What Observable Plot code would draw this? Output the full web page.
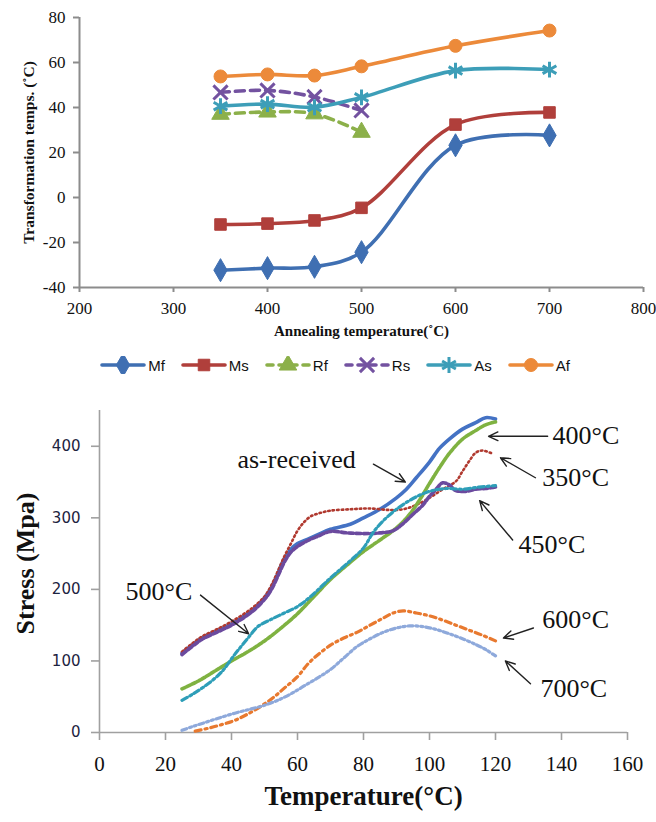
<!DOCTYPE html>
<html><head><meta charset="utf-8">
<script src="https://cdn.jsdelivr.net/npm/d3@7"></script>
<script src="https://cdn.jsdelivr.net/npm/@observablehq/plot@0.6"></script>
<style>
body{margin:0;background:#fff;width:656px;overflow:hidden;}
svg{display:block;}
#legend{height:35px;box-sizing:border-box;padding-top:11px;padding-left:14px;display:flex;justify-content:center;gap:16px;font-family:"Liberation Sans",Arial,sans-serif;font-size:15px;color:#111;}
#legend .item{display:flex;align-items:center;height:18px;}
#legend .item span{margin-left:2px;}
</style></head><body>
<div id="top"></div>
<div id="legend"></div>
<div id="bottom"></div>
<script>
// ---------- Top panel data ----------
const annealTemps = [350, 400, 450, 500, 600, 700];
const topSeriesNames = ["Mf", "Ms", "Rf", "Rs", "As", "Af"];
const Mf = [-32.3, -31.4, -30.8, -24.3, 23.2, 27.6];
const Ms = [-12.0, -11.6, -10.2, -4.6, 32.4, 37.8];
const Rf = [37.0, 38.0, 37.2, 29.0];
const Rs = [46.7, 47.6, 44.7, 38.7];
const As = [40.6, 41.5, 40.1, 44.5, 56.4, 56.8];
const Af = [53.8, 54.7, 54.2, 58.3, 67.4, 74.2];
const topValues = {Mf, Ms, Rf, Rs, As, Af};
const topXTicks = [200, 300, 400, 500, 600, 700, 800];
const topYTicks = [-40, -20, 0, 20, 40, 60, 80];

// ---------- Bottom panel data (Temperature °C, Stress MPa) ----------
const bottomSeriesNames = ["as-received", "350°C", "400°C", "450°C", "500°C", "600°C", "700°C"];
const asReceived = [[25,111],[28,122],[31,132],[35,141],[40,152],[46,170],[50,188],[52,202],[54,222],[56,243],[58,256],[60,264],[63,270],[66,276],[70,284],[76,291],[80,300],[85,312],[90,328],[93,340],[96,356],[100,378],[103,397],[106,410],[110,424],[114,433],[117,440],[120,438]];
const annealed350 = [[25,113],[28,124],[31,134],[35,143],[40,155],[46,173],[50,190],[52,205],[54,225],[56,246],[58,264],[60,282],[62,294],[64,302],[67,307],[70,310],[76,312],[82,313],[88,311],[92,312],[96,318],[100,328],[104,340],[108,351],[110,365],[112,379],[114,391],[116,394],[119,390]];
const annealed400 = [[25,61],[30,72],[35,86],[40,100],[45,113],[50,128],[55,146],[60,166],[65,190],[70,214],[75,234],[80,253],[85,269],[90,286],[94,305],[97,325],[100,348],[103,370],[106,390],[110,410],[114,422],[117,430],[120,434]];
const annealed450 = [[25,109],[28,120],[31,130],[35,139],[40,150],[46,168],[50,186],[52,199],[54,218],[56,238],[58,252],[60,260],[63,268],[66,274],[70,281],[75,279],[80,278],[85,279],[89,282],[92,292],[95,305],[98,318],[100,330],[102,340],[104,349],[106,346],[108,338],[111,337],[114,340],[117,341],[120,343]];
const annealed500 = [[25,45],[28,53],[32,65],[36,80],[38,90],[40,103],[42,115],[45,132],[48,148],[52,158],[56,167],[60,176],[64,190],[70,216],[76,240],[80,258],[83,280],[86,296],[90,312],[95,327],[100,337],[105,341],[110,340],[115,343],[120,345]];
const annealed600 = [[29,2],[33,6],[37,11],[41,17],[45,26],[50,40],[53,50],[56,62],[60,78],[63,95],[66,108],[70,122],[74,132],[78,140],[82,150],[86,160],[89,167],[92,170],[96,167],[100,163],[104,157],[108,150],[112,143],[116,136],[120,128]];
const annealed700 = [[25,3],[28,8],[32,14],[36,20],[41,27],[46,33],[50,38],[54,45],[58,54],[62,65],[66,76],[70,88],[74,104],[78,120],[82,131],[86,140],[90,146],[94,149],[98,148],[102,144],[106,138],[110,131],[114,123],[117,116],[120,107]];
const bottomValues = [asReceived, annealed350, annealed400, annealed450, annealed500, annealed600, annealed700];
const bottomXTicks = [0, 20, 40, 60, 80, 100, 120, 140, 160];
const bottomYTicks = [0, 100, 200, 300, 400];

// Annotations (label, text anchor in data units, arrow from -> to in data units)
const annotLabels = ["as-received", "400°C", "350°C", "450°C", "500°C", "600°C", "700°C"];
const annotTextT = [41.8, 137.3, 134.2, 127.0, 7.9, 134.2, 133.6];
const annotTextS = [370, 403, 344.5, 251, 185.5, 146, 49];
const arrowFromT = [83.0, 135.8, 132.1, 125.2, 30.6, 131.5, 130.6];
const arrowFromS = [375, 414, 356, 269, 192, 146, 68];
const arrowToT = [92.7, 117.9, 121.5, 115.2, 45.2, 122.4, 123.0];
const arrowToS = [350, 414, 384, 324, 138, 132, 100];

// ---------- Styles ----------
const topStyle = {
  Mf: {color: "#3F6FB2", symbol: "diamond", dash: null, r: 7, filled: true},
  Ms: {color: "#B03F3B", symbol: "square", dash: null, r: 6.5, filled: true},
  Rf: {color: "#8CB04A", symbol: "triangle", dash: "9,6", r: 6.5, filled: true},
  Rs: {color: "#7352A0", symbol: "times", dash: "9,6", r: 6.5, filled: false},
  As: {color: "#3D9EB8", symbol: "asterisk", dash: null, r: 7.5, filled: false},
  Af: {color: "#EC8A3A", symbol: "circle", dash: null, r: 6.5, filled: true}
};
const bottomStyle = [
  {color: "#4472C4", dash: null, w: 3.6},
  {color: "#B0392F", dash: "1.5,3", w: 2.6},
  {color: "#7FB241", dash: "4,1.5", w: 3.6},
  {color: "#6B4A9E", dash: "5,2.5", w: 3.6},
  {color: "#2E9EB8", dash: "6,3,2,3", w: 3.2},
  {color: "#E8792F", dash: "6,4,2,4", w: 3.2},
  {color: "#8EA9DB", dash: "5,3,2,3,2,3", w: 3.2}
];

// ---------- Top chart ----------
const topRows = topSeriesNames.flatMap(name => topValues[name].map((v, i) => ({name, T: annealTemps[i], v})));
const topMarks = [
  Plot.ruleX([200], {stroke: "#8c8c8c", strokeWidth: 2}),
  Plot.ruleY([-40], {stroke: "#8c8c8c", strokeWidth: 2}),
  Plot.axisY({ticks: topYTicks, tickFormat: d => String(d), tickSize: 6, tickPadding: 8, stroke: "#8c8c8c", strokeWidth: 2, fill: "#111", fontSize: 17, label: null}),
  Plot.axisX({ticks: topXTicks, tickFormat: d => String(d), tickSize: 5, tickPadding: 9, stroke: "#8c8c8c", strokeWidth: 2, fill: "#111", fontSize: 17, label: null})
];
for (const name of topSeriesNames) {
  const st = topStyle[name];
  const rows = topRows.filter(d => d.name === name);
  topMarks.push(Plot.line(rows, {x: "T", y: "v", stroke: st.color, strokeWidth: 3.6, curve: "catmull-rom", strokeDasharray: st.dash}));
}
for (const name of topSeriesNames) {
  const st = topStyle[name];
  const rows = topRows.filter(d => d.name === name);
  topMarks.push(st.filled
    ? Plot.dot(rows, {x: "T", y: "v", symbol: st.symbol, r: st.r, fill: st.color, stroke: st.color, strokeWidth: 1})
    : Plot.dot(rows, {x: "T", y: "v", symbol: st.symbol, r: st.r, fill: "none", stroke: st.color, strokeWidth: 3}));
}
topMarks.push(Plot.text(["Annealing temperature(˚C)"], {text: d => d, frameAnchor: "bottom", textAnchor: "middle", dy: 48, fontWeight: "bold", fontSize: 15, fill: "#111"}));
topMarks.push(Plot.text(["Transformation temps. (˚C)"], {text: d => d, frameAnchor: "left", textAnchor: "middle", rotate: -90, dx: -50, fontWeight: "bold", fontSize: 15.5, fill: "#111"}));

const topPlot = Plot.plot({
  width: 656, height: 345,
  marginLeft: 79, marginRight: 13, marginTop: 17, marginBottom: 58,
  style: {fontFamily: '"Liberation Serif","Times New Roman",serif', background: "white", overflow: "visible"},
  x: {domain: [200, 800], axis: null},
  y: {domain: [-40, 80], axis: null},
  marks: topMarks
});
document.getElementById("top").append(topPlot);

// ---------- Legend ----------
const legend = d3.select("#legend");
for (const name of topSeriesNames) {
  const st = topStyle[name];
  const item = legend.append("div").attr("class", "item");
  const svg = item.append("svg").attr("width", 46).attr("height", 18);
  svg.append("line").attr("x1", 2).attr("x2", 44).attr("y1", 9).attr("y2", 9)
    .attr("stroke", st.color).attr("stroke-width", 3.6).attr("stroke-linecap", "round")
    .attr("stroke-dasharray", st.dash ? "6,6" : null);
  const symMap = {diamond: d3.symbolDiamond, square: d3.symbolSquare, triangle: d3.symbolTriangle, times: d3.symbolTimes, asterisk: d3.symbolAsterisk, circle: d3.symbolCircle};
  const path = d3.symbol(symMap[st.symbol], Math.PI * st.r * st.r)();
  svg.append("path").attr("d", path).attr("transform", "translate(23,9)")
    .attr("fill", st.filled ? st.color : "none").attr("stroke", st.color).attr("stroke-width", st.filled ? 1 : 3);
  item.append("span").text(name);
}

// ---------- Bottom chart ----------
const bottomMarks = [
  Plot.ruleX([0], {stroke: "#a0a0a0", strokeWidth: 1.6}),
  Plot.ruleY([0], {stroke: "#a0a0a0", strokeWidth: 1.6}),
  Plot.axisY({ticks: bottomYTicks, tickFormat: d => String(d), tickSize: 8, tickPadding: 11, stroke: "#a0a0a0", strokeWidth: 1.6, fill: "#1c2340", fontSize: 15, fontFamily: '"DejaVu Sans",sans-serif', label: null}),
  Plot.axisX({ticks: bottomXTicks, tickFormat: d => String(d), tickSize: 8, tickPadding: 16, stroke: "#a0a0a0", strokeWidth: 1.6, fill: "#111", fontSize: 21, label: null})
];
bottomSeriesNames.forEach((name, i) => {
  const st = bottomStyle[i];
  const rows = bottomValues[i].map(([t, s]) => ({name, t, s}));
  bottomMarks.push(Plot.line(rows, {x: "t", y: "s", stroke: st.color, strokeWidth: st.w, strokeDasharray: st.dash, strokeLinecap: "round", curve: "catmull-rom"}));
});
const annots = annotLabels.map((label, i) => ({label, tx: annotTextT[i], ty: annotTextS[i], x1: arrowFromT[i], y1: arrowFromS[i], x2: arrowToT[i], y2: arrowToS[i]}));
bottomMarks.push(Plot.arrow(annots, {x1: "x1", y1: "y1", x2: "x2", y2: "y2", stroke: "#222", strokeWidth: 1.4, headLength: 11, headAngle: 50}));
bottomMarks.push(Plot.text(annots, {x: "tx", y: "ty", text: "label", textAnchor: "start", lineAnchor: "bottom", fontSize: 26, fill: "#111"}));
bottomMarks.push(Plot.text(["Temperature(°C)"], {text: d => d, frameAnchor: "bottom", textAnchor: "middle", dy: 72, fontWeight: "bold", fontSize: 27, fill: "#111"}));
bottomMarks.push(Plot.text(["Stress (Mpa)"], {text: d => d, frameAnchor: "left", textAnchor: "middle", rotate: -90, dx: -74, dy: -8, fontWeight: "bold", fontSize: 26, fill: "#111"}));

const bottomPlot = Plot.plot({
  width: 656, height: 442,
  marginLeft: 99, marginRight: 29, marginTop: 30, marginBottom: 90,
  style: {fontFamily: '"Liberation Serif","Times New Roman",serif', background: "white", overflow: "visible"},
  x: {domain: [0, 160], axis: null},
  y: {domain: [0, 450], axis: null},
  marks: bottomMarks
});
document.getElementById("bottom").append(bottomPlot);
</script>
</body></html>
